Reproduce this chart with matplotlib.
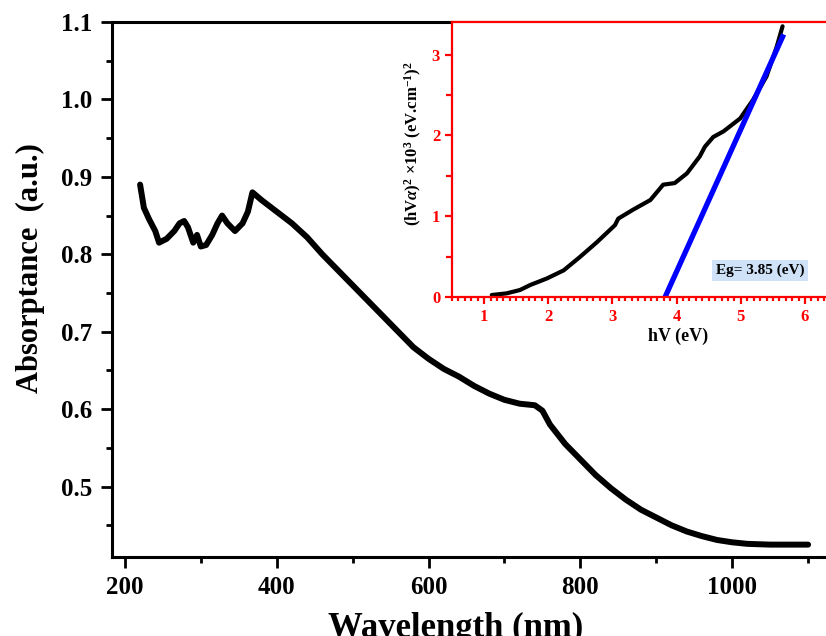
import numpy as np
import matplotlib
matplotlib.use("Agg")
import matplotlib.pyplot as plt
from matplotlib.ticker import MultipleLocator

plt.rcParams['font.family'] = ['Liberation Serif', 'DejaVu Serif']
plt.rcParams['font.weight'] = 'bold'
plt.rcParams['mathtext.fontset'] = 'custom'
plt.rcParams['mathtext.rm'] = 'Liberation Serif:bold'
plt.rcParams['mathtext.it'] = 'Liberation Serif:bold:italic'
plt.rcParams['mathtext.bf'] = 'Liberation Serif:bold'

# absorptance spectrum
wl = [220, 225, 232, 240, 245, 255, 265, 272, 278, 283, 290, 295, 300, 307,
      315, 322, 328, 335, 345, 355, 362, 368, 380, 400, 420, 440, 460, 480,
      500, 520, 540, 560, 580, 600, 620, 640, 660, 680, 700, 720, 740, 750,
      760, 780, 800, 820, 840, 860, 880, 900, 920, 940, 960, 980, 1000, 1020,
      1050, 1100]
absorb = [0.89, 0.86, 0.845, 0.83, 0.815, 0.82, 0.83, 0.84, 0.843, 0.835,
          0.815, 0.825, 0.81, 0.812, 0.825, 0.84, 0.85, 0.84, 0.83, 0.84,
          0.855, 0.88, 0.87, 0.855, 0.84, 0.822, 0.80, 0.78, 0.76, 0.74,
          0.72, 0.70, 0.68, 0.665, 0.652, 0.642, 0.63, 0.62, 0.612, 0.607,
          0.605, 0.598, 0.58, 0.555, 0.535, 0.515, 0.498, 0.483, 0.47, 0.46,
          0.45, 0.442, 0.436, 0.431, 0.428, 0.426, 0.425, 0.425]

# Tauc plot (inset)
hv = [1.12, 1.35, 1.56, 1.72, 1.98, 2.24, 2.50, 2.76, 3.04, 3.09, 3.32,
      3.59, 3.79, 3.97, 4.16, 4.36, 4.44, 4.57, 4.73, 4.99, 5.19, 5.40,
      5.56, 5.65]
tauc = [0.025, 0.045, 0.087, 0.149, 0.23, 0.33, 0.50, 0.68, 0.89, 0.97,
        1.08, 1.20, 1.39, 1.41, 1.53, 1.74, 1.86, 1.98, 2.05, 2.21, 2.44,
        2.73, 3.10, 3.35]
fit_x = [3.82, 5.65]
fit_y = [0.0, 3.22]

fig = plt.figure(figsize=(8.26, 6.36), dpi=100)
ax = fig.add_axes([0.1356, 0.1242, 0.8795, 0.8412])
ax.plot(wl, absorb, color='black', lw=4.3, solid_capstyle='round')
ax.set_xlim(183, 1140)
ax.set_ylim(0.409, 1.1)
ax.xaxis.set_major_locator(MultipleLocator(200))
ax.xaxis.set_minor_locator(MultipleLocator(100))
ax.yaxis.set_major_locator(MultipleLocator(0.1))
ax.yaxis.set_minor_locator(MultipleLocator(0.05))
ax.set_yticks([0.5, 0.6, 0.7, 0.8, 0.9, 1.0, 1.1])
ax.yaxis.set_major_formatter(plt.FormatStrFormatter('%.1f'))
ax.tick_params(which='both', direction='out', width=2, labelsize=18, pad=6)
ax.tick_params(which='major', length=8)
ax.tick_params(which='minor', length=4.5)
for s in ax.spines.values():
    s.set_linewidth(2.2)
ax.set_xlabel('Wavelength (nm)', fontsize=25, fontweight='bold')
ax.xaxis.set_label_coords(0.4735, -0.103)
ax.set_ylabel('Absorptance  (a.u.)', fontsize=22, fontweight='bold')
ax.yaxis.set_label_coords(-0.092, 0.54)

red = '#ff0000'
ins = fig.add_axes([0.5472, 0.533, 0.4585, 0.432])
ins.plot(hv, tauc, color='black', lw=3, solid_capstyle='round')
ins.plot(fit_x, fit_y, color='#0000ff', lw=3.8)
ins.set_xlim(0.5, 6.4)
ins.set_ylim(0, 3.4)
ins.xaxis.set_major_locator(MultipleLocator(1))
ins.xaxis.set_minor_locator(MultipleLocator(0.1))
ins.yaxis.set_major_locator(MultipleLocator(1))
ins.yaxis.set_minor_locator(MultipleLocator(0.5))
ins.tick_params(which='both', direction='out', colors=red, width=1.6,
                labelsize=12)
ins.tick_params(which='major', length=5)
ins.tick_params(axis='x', which='minor', length=3)
ins.tick_params(axis='y', which='minor', length=4)
for s in ins.spines.values():
    s.set_color(red)
    s.set_linewidth(1.6)
ins.set_xlabel('hV (eV)', fontsize=13, fontweight='bold')
ins.xaxis.set_label_coords(0.597, -0.11)
ins.set_ylabel(r'(hV$\alpha$)$^2$ $\times$10$^3$ (eV.cm$^{-1}$)$^2$',
               fontsize=12, fontweight='bold')
ins.yaxis.set_label_coords(-0.075, 0.56)
ins.text(5.3, 0.33, 'Eg= 3.85 (eV)', fontsize=11, fontweight='bold',
         ha='center', va='center',
         bbox=dict(boxstyle='square,pad=0.25', fc='#cfe2f7', ec='none'))

fig.savefig('out.png', dpi=100)
